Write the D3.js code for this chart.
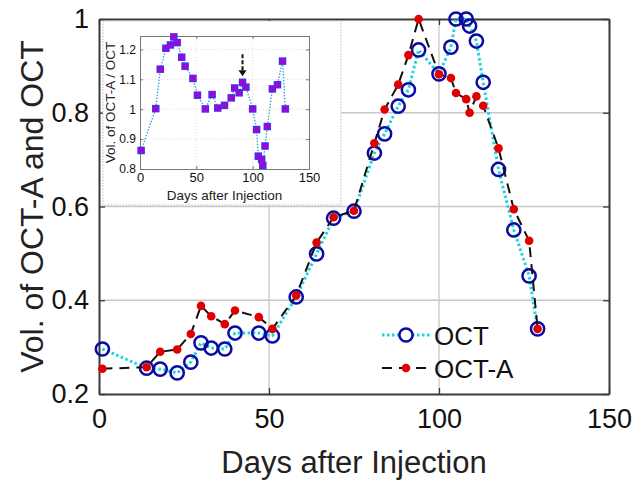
<!DOCTYPE html>
<html>
<head>
<meta charset="utf-8">
<script src="https://cdn.jsdelivr.net/npm/d3@7"></script>
<style>
  body { margin: 0; background: #fff; }
  svg { display: block; font-family: "Liberation Sans", Arial, sans-serif; }
</style>
</head>
<body>
<svg id="chart" width="634" height="480"></svg>
<script>
// data
const days = [1, 14, 18, 23, 27, 30, 33, 37, 40, 47, 51, 58, 64, 69, 75, 81, 84, 88, 91, 94,
              100, 103.5, 105, 108, 109, 111, 113, 117.5, 122, 126.5, 129]
const oct = [0.296, 0.255, 0.253, 0.245, 0.268, 0.309, 0.298, 0.296, 0.330, 0.330, 0.324, 0.407,
             0.499, 0.575, 0.590, 0.714, 0.755, 0.814, 0.849, 0.934, 0.883, 0.940, 1.000, 1.000,
             0.985, 0.953, 0.865, 0.679, 0.550, 0.452, 0.339]
const octA = [0.254, 0.257, 0.290, 0.295, 0.328, 0.388, 0.366, 0.349, 0.378, 0.364, 0.339, 0.410,
              0.523, 0.577, 0.591, 0.735, 0.807, 0.860, 0.923, 1.000, 0.882, 0.874, 0.842, 0.829,
              0.800, 0.835, 0.815, 0.724, 0.594, 0.527, 0.339]
const ratio = [0.862, 1.002, 1.134, 1.204, 1.215, 1.242, 1.223, 1.174, 1.144, 1.103, 1.047, 1.001,
               1.049, 1.004, 1.013, 1.038, 1.071, 1.055, 1.090, 1.074, 1.001, 0.932, 0.843, 0.832,
               0.812, 0.877, 0.942, 1.068, 1.082, 1.161, 1.001]
const xTicks = [0, 50, 100, 150]
const yTicks = [0.2, 0.4, 0.6, 0.8, 1]
const insetYTicks = [0.8, 0.9, 1, 1.1, 1.2]
const arrowDay = 91
const seriesNames = ["OCT", "OCT-A"]

const svg = d3.select("#chart")
svg.append("rect").attr("width", 634).attr("height", 480).attr("fill", "#fff")

// main axes
const x = d3.scaleLinear().domain([0, 150]).range([99, 609])
const y = d3.scaleLinear().domain([0.2, 1]).range([394, 19])

// grid
const grid = svg.append("g").attr("stroke", "#c8c8c8").attr("stroke-width", 1.3)
grid.selectAll(".gx").data(xTicks.slice(1, -1)).join("line")
    .attr("x1", d => x(d)).attr("x2", d => x(d)).attr("y1", y(0.2)).attr("y2", y(1))
grid.selectAll(".gy").data(yTicks.slice(1, -1)).join("line")
    .attr("y1", d => y(d)).attr("y2", d => y(d)).attr("x1", x(0)).attr("x2", x(150))

const fmt = d => d3.format("~g")(d)
const axB = svg.append("g").attr("transform", `translate(0,${y(0.2)})`)
    .call(d3.axisBottom(x).tickValues(xTicks).tickFormat(fmt).tickSizeInner(-6).tickSizeOuter(0).tickPadding(15))
const axL = svg.append("g").attr("transform", `translate(${x(0)},0)`)
    .call(d3.axisLeft(y).tickValues(yTicks).tickFormat(fmt).tickSizeInner(-6).tickSizeOuter(0).tickPadding(10))
const axT = svg.append("g").attr("transform", `translate(0,${y(1)})`)
    .call(d3.axisTop(x).tickValues(xTicks).tickFormat("").tickSizeInner(-6).tickSizeOuter(0))
const axR = svg.append("g").attr("transform", `translate(${x(150)},0)`)
    .call(d3.axisRight(y).tickValues(yTicks).tickFormat("").tickSizeInner(-6).tickSizeOuter(0))
for (const a of [axB, axL, axT, axR]) {
  a.select(".domain").attr("stroke", "#3a3a3a").attr("stroke-width", 2)
  a.selectAll(".tick line").attr("stroke", "#3a3a3a").attr("stroke-width", 1.3)
  a.selectAll(".tick text").attr("font-size", 27).attr("fill", "#111").attr("font-family", null)
}

svg.append("text").attr("x", 354).attr("y", 473).attr("text-anchor", "middle")
    .attr("font-size", 31).attr("fill", "#222").text("Days after Injection")
svg.append("text").attr("transform", `translate(43,${(y(0.2) + y(1)) / 2}) rotate(-90)`)
    .attr("text-anchor", "middle").attr("font-size", 32).attr("fill", "#222").text("Vol. of OCT-A and OCT")

// inset
const ins = svg.append("g")
ins.append("rect").attr("x", 103).attr("y", 21).attr("width", 238).attr("height", 184)
    .attr("fill", "#fff").attr("stroke", "#bbb").attr("stroke-width", 1).attr("stroke-dasharray", "1.5 1.5")
const ix = d3.scaleLinear().domain([0, 150]).range([140, 309])
const iy = d3.scaleLinear().domain([0.8, 1.245]).range([169, 36])
const ig = ins.append("g").attr("stroke", "#d4d4d4").attr("stroke-width", 0.8).attr("stroke-dasharray", "1 2")
ig.selectAll(".gx").data(xTicks.slice(1, -1)).join("line")
    .attr("x1", d => ix(d)).attr("x2", d => ix(d)).attr("y1", iy.range()[0]).attr("y2", iy.range()[1])
ig.selectAll(".gy").data(insetYTicks.slice(1)).join("line")
    .attr("y1", d => iy(d)).attr("y2", d => iy(d)).attr("x1", ix(0)).attr("x2", ix(150))
const iB = ins.append("g").attr("transform", `translate(0,${iy.range()[0]})`)
    .call(d3.axisBottom(ix).tickValues(xTicks).tickFormat(fmt).tickSizeInner(-3).tickSizeOuter(0).tickPadding(4))
const iL = ins.append("g").attr("transform", `translate(${ix(0)},0)`)
    .call(d3.axisLeft(iy).tickValues(insetYTicks).tickFormat(fmt).tickSizeInner(-3).tickSizeOuter(0).tickPadding(4))
const iT = ins.append("g").attr("transform", `translate(0,${iy.range()[1]})`)
    .call(d3.axisTop(ix).tickValues(xTicks).tickFormat("").tickSizeInner(-3).tickSizeOuter(0))
const iR = ins.append("g").attr("transform", `translate(${ix(150)},0)`)
    .call(d3.axisRight(iy).tickValues(insetYTicks).tickFormat("").tickSizeInner(-3).tickSizeOuter(0))
for (const a of [iB, iL, iT, iR]) {
  a.select(".domain").attr("stroke", "#777").attr("stroke-width", 1)
  a.selectAll(".tick line").attr("stroke", "#777")
  a.selectAll(".tick text").attr("font-size", 12).attr("fill", "#111").attr("font-family", null)
}
iB.selectAll(".tick text").attr("font-size", 13)
ins.append("text").attr("x", (ix(0) + ix(150)) / 2).attr("y", 200).attr("text-anchor", "middle")
    .attr("font-size", 13.5).attr("fill", "#222").text("Days after Injection")
ins.append("text").attr("transform", `translate(115,${(iy.range()[0] + iy.range()[1]) / 2}) rotate(-90)`)
    .attr("text-anchor", "middle").attr("font-size", 13.5).attr("fill", "#222").text("Vol. of OCT-A / OCT")

const rdat = days.map((d, i) => [d, ratio[i]])
ins.append("path").datum(rdat)
    .attr("fill", "none").attr("stroke", "#3aa8dc").attr("stroke-width", 1.4).attr("stroke-dasharray", "1.5 1.5")
    .attr("d", d3.line().x(d => ix(d[0])).y(d => iy(d[1])))
ins.selectAll(".sq").data(rdat).join("rect")
    .attr("x", d => ix(d[0]) - 3).attr("y", d => iy(d[1]) - 3).attr("width", 6).attr("height", 6)
    .attr("fill", "#b000c8").attr("stroke", "#4a2cf0").attr("stroke-width", 1.5)

// arrow pointing at the marked day
const ai = days.indexOf(arrowDay)
const ax0 = ix(arrowDay), ayTip = iy(ratio[ai]) - 6
ins.append("line").attr("x1", ax0).attr("x2", ax0).attr("y1", ayTip - 22).attr("y2", ayTip - 5)
    .attr("stroke", "#111").attr("stroke-width", 2).attr("stroke-dasharray", "4 2")
ins.append("path").attr("d", `M${ax0 - 4},${ayTip - 6}L${ax0 + 4},${ayTip - 6}L${ax0},${ayTip}Z`).attr("fill", "#111")

// main series
const octDat = days.map((d, i) => [d, oct[i]])
const octADat = days.map((d, i) => [d, octA[i]])
const line = d3.line().x(d => x(d[0])).y(d => y(d[1]))

svg.append("path").datum(octDat).attr("fill", "none").attr("stroke", "#1dd3e3")
    .attr("stroke-width", 3).attr("stroke-dasharray", "2.5 2.5").attr("d", line)
svg.selectAll(".oc").data(octDat).join("circle")
    .attr("cx", d => x(d[0])).attr("cy", d => y(d[1])).attr("r", 6.6)
    .attr("fill", "none").attr("stroke", "#0a0aa5").attr("stroke-width", 2.5)

svg.append("path").datum(octADat).attr("fill", "none").attr("stroke", "#111")
    .attr("stroke-width", 2).attr("stroke-dasharray", "10 7").attr("d", line)
svg.selectAll(".oa").data(octADat).join("circle")
    .attr("cx", d => x(d[0])).attr("cy", d => y(d[1])).attr("r", 4.3)
    .attr("fill", "#e00000")

// legend
const lg = svg.append("g")
const lx0 = 382, lx1 = 430, ly = [335, 368]
lg.append("line").attr("x1", lx0).attr("x2", lx1).attr("y1", ly[0]).attr("y2", ly[0])
    .attr("stroke", "#1dd3e3").attr("stroke-width", 3).attr("stroke-dasharray", "2.5 2.5")
lg.append("circle").attr("cx", (lx0 + lx1) / 2).attr("cy", ly[0]).attr("r", 6.6)
    .attr("fill", "#fff").attr("stroke", "#0a0aa5").attr("stroke-width", 2.5)
lg.append("line").attr("x1", lx0).attr("x2", lx1).attr("y1", ly[1]).attr("y2", ly[1])
    .attr("stroke", "#111").attr("stroke-width", 2).attr("stroke-dasharray", "10 7")
lg.append("circle").attr("cx", (lx0 + lx1) / 2).attr("cy", ly[1]).attr("r", 4.3).attr("fill", "#e00000")
lg.selectAll("text").data(seriesNames).join("text")
    .attr("x", 434).attr("y", (d, i) => ly[i] + 10).attr("font-size", 26).attr("fill", "#111").text(d => d)
</script>
</body>
</html>
